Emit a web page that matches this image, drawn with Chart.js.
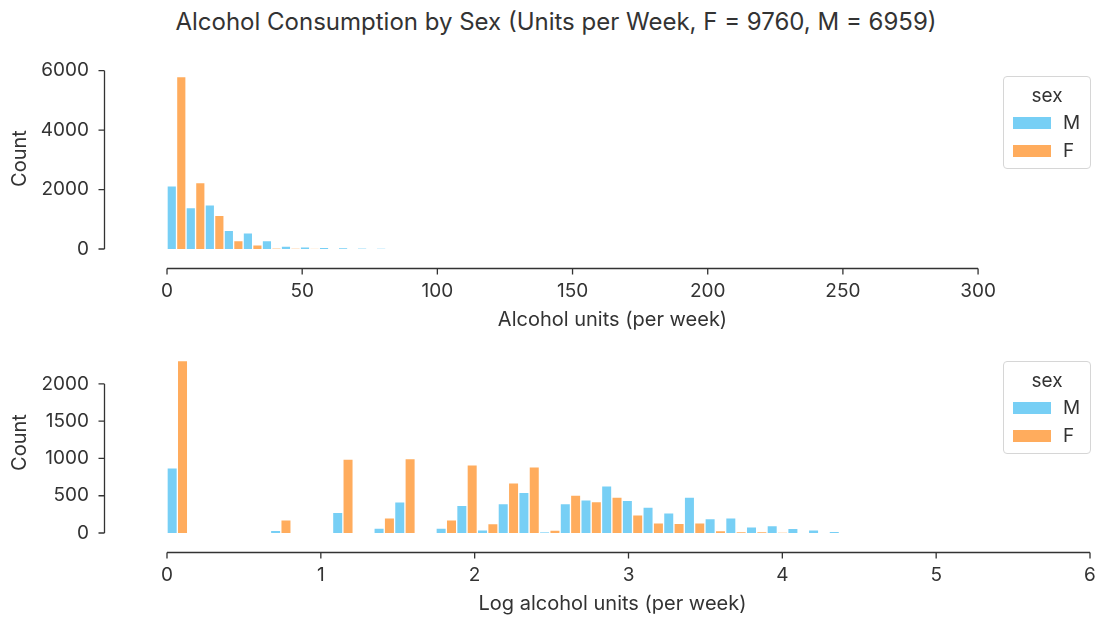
<!DOCTYPE html>
<html>
<head>
<meta charset="utf-8">
<script src="https://cdn.jsdelivr.net/npm/chart.js@4.4.1/dist/chart.umd.min.js"></script>
<style>
  body { margin: 0; background: #fff; width: 1101px; height: 619px; position: relative; overflow: hidden;
         font-family: Inter, "DejaVu Sans", sans-serif; color: #333; }
  #title { position: absolute; top: 7px; left: 0; width: 1112px; text-align: center; font-size: 24px; line-height: 30px; }
  .wrap { position: absolute; left: 0; width: 1101px; }
  #top-wrap { top: 40px; height: 300px; }
  #bottom-wrap { top: 335px; height: 284px; }
  .legend { position: absolute; left: 1003px; width: 86px; height: 91px; border: 1px solid #d6d6d6;
            border-radius: 4px; background: rgba(255,255,255,0.8); font-size: 19px; }
  .legend .lg-title { position: absolute; left: 0; width: 100%; top: 8px; text-align: center; line-height: 22px; }
  .legend .lg-row { position: absolute; left: 0; width: 100%; height: 22px; }
  .legend .lg-patch { position: absolute; left: 9px; top: 5px; width: 38px; height: 12px; }
  .legend .lg-label { position: absolute; left: 59px; top: 0; line-height: 22px; }
</style>
</head>
<body>
<div id="title">Alcohol Consumption by Sex (Units per Week, F = 9760, M = 6959)</div>
<div class="wrap" id="top-wrap"><canvas id="unitsChart" width="1101" height="300"></canvas></div>
<div class="wrap" id="bottom-wrap"><canvas id="logChart" width="1101" height="284"></canvas></div>
<div class="legend" id="unitsLegend" style="top:76px"></div>
<div class="legend" id="logLegend" style="top:361px"></div>

<script>
const seriesLabels = ["M", "F"];
const seriesColors = ["#77cff5", "#ffac5d"];
const legendTitle = "sex";

// top panel: raw units, 12 bins
const unitsBinWidth = 7.04;
const unitsCountsM = [2126, 1397, 1488, 625, 545, 285, 95, 75, 50, 20, 15, 5];
const unitsCountsF = [5798, 2237, 1129, 280, 140, 15, 4, 2, 0, 0, 0, 0];
const unitsTicks = [0, 50, 100, 150, 200, 250, 300];
const unitsCountTicks = [0, 2000, 4000, 6000];

// bottom panel: log units, 33 bins
const logBinWidth = 0.1345;
const logCountsM = [875, 0, 0, 0, 0, 35, 0, 0, 276, 0, 67, 419, 0, 67, 370, 44, 396, 544, 8, 396,
                    446, 633, 437, 348, 272, 482, 192, 205, 84, 98, 62, 44, 15];
const logCountsF = [2312, 0, 0, 0, 0, 178, 0, 0, 991, 0, 205, 999, 0, 178, 915, 125, 674, 888, 40, 509,
                    423, 482, 245, 138, 129, 138, 31, 12, 10, 3, 0, 0, 0];
const logTicks = [0, 1, 2, 3, 4, 5, 6];
const logCountTicks = [0, 500, 1000, 1500, 2000];

const FONT = "Inter, 'DejaVu Sans', sans-serif";
const TEXT = "#333333";

function toPoints(counts, width) {
  return counts.map((c, i) => ({ x: (i + 0.5) * width, y: c }));
}

// seaborn-style detached, trimmed spines
const spinePlugin = {
  id: "spines",
  afterDraw(chart) {
    const { ctx, chartArea, scales } = chart;
    const xs = scales.x;
    const ys = scales.y;
    const yLine = Math.round(chartArea.left - 31) + 0.5;
    const xLine = Math.round(chartArea.bottom + 19) + 0.5;
    const yp = ys.ticks.map((t) => ys.getPixelForValue(t.value));
    const xp = xs.ticks.map((t) => xs.getPixelForValue(t.value));
    ctx.save();
    ctx.strokeStyle = TEXT;
    ctx.lineWidth = 1.3;
    ctx.beginPath();
    ctx.moveTo(yLine, yp[0]);
    ctx.lineTo(yLine, yp[yp.length - 1]);
    yp.forEach((p) => { ctx.moveTo(yLine - 6, p); ctx.lineTo(yLine, p); });
    ctx.moveTo(xp[0], xLine);
    ctx.lineTo(xp[xp.length - 1], xLine);
    xp.forEach((p) => { ctx.moveTo(p, xLine); ctx.lineTo(p, xLine + 6); });
    ctx.stroke();
    ctx.restore();
  },
};

function makeHist(canvasId, opts) {
  const datasets = [opts.countsM, opts.countsF].map((counts, i) => ({
    label: seriesLabels[i],
    data: toPoints(counts, opts.binWidth),
    backgroundColor: seriesColors[i],
    borderColor: "rgba(255,255,255,0.45)",
    borderWidth: 1,
    barPercentage: 1,
    categoryPercentage: 1,
  }));

  return new Chart(document.getElementById(canvasId), {
    type: "bar",
    data: { datasets },
    options: {
      responsive: false,
      animation: false,
      layout: { padding: { top: opts.padTop, right: 11, left: 0, bottom: 0 } },
      plugins: { legend: { display: false }, tooltip: { enabled: false } },
      scales: {
        x: {
          type: "linear",
          min: opts.xMin,
          max: opts.xMax,
          offset: false,
          afterBuildTicks: (scale) => { scale.ticks = opts.xTicks.map((v) => ({ value: v })); },
          afterFit: (scale) => { scale.height = opts.xHeight; },
          // tick gap is carried by tickLength so it does not leak into layout padding
          grid: { display: false, drawTicks: true, tickLength: 31 },
          border: { display: false },
          ticks: { padding: 0, color: TEXT, maxRotation: 0, autoSkip: false,
                   font: { family: FONT, size: 19 }, callback: (v) => String(v) },
          title: { display: true, text: opts.xTitle, color: TEXT,
                   font: { family: FONT, size: 20 }, padding: { top: 0, bottom: opts.xTitlePad } },
        },
        y: {
          min: 0,
          max: opts.yMax,
          afterBuildTicks: (scale) => { scale.ticks = opts.yTicks.map((v) => ({ value: v })); },
          afterFit: (scale) => { scale.width = 135; },
          grid: { display: false, drawTicks: true, tickLength: 46 },
          border: { display: false },
          ticks: { padding: 0, color: TEXT, font: { family: FONT, size: 19 }, callback: (v) => String(v) },
          title: { display: true, text: "Count", color: TEXT,
                   font: { family: FONT, size: 20 }, padding: { top: 8, bottom: 0 } },
        },
      },
    },
    plugins: [spinePlugin],
  });
}

function buildLegend(elId, chart) {
  const el = document.getElementById(elId);
  const t = document.createElement("div");
  t.className = "lg-title";
  t.textContent = legendTitle;
  el.appendChild(t);
  chart.data.datasets.forEach((ds, i) => {
    const row = document.createElement("div");
    row.className = "lg-row";
    row.style.top = (35 + i * 28) + "px";
    const patch = document.createElement("div");
    patch.className = "lg-patch";
    patch.style.background = ds.backgroundColor;
    const label = document.createElement("div");
    label.className = "lg-label";
    label.textContent = ds.label;
    row.appendChild(patch);
    row.appendChild(label);
    el.appendChild(row);
  });
}

const unitsChart = makeHist("unitsChart", {
  countsM: unitsCountsM, countsF: unitsCountsF, binWidth: unitsBinWidth,
  xMin: -11.84, xMax: 341.4, xTicks: unitsTicks, yMax: 6090, yTicks: unitsCountTicks,
  padTop: 28, xHeight: 91, xTitle: "Alcohol units (per week)", xTitlePad: 8,
});

const logChart = makeHist("logChart", {
  countsM: logCountsM, countsF: logCountsF, binWidth: logBinWidth,
  xMin: -0.208, xMax: 6, xTicks: logTicks, yMax: 2428, yTicks: logCountTicks,
  padTop: 17, xHeight: 86, xTitle: "Log alcohol units (per week)", xTitlePad: 3,
});

buildLegend("unitsLegend", unitsChart);
buildLegend("logLegend", logChart);
</script>
</body>
</html>
